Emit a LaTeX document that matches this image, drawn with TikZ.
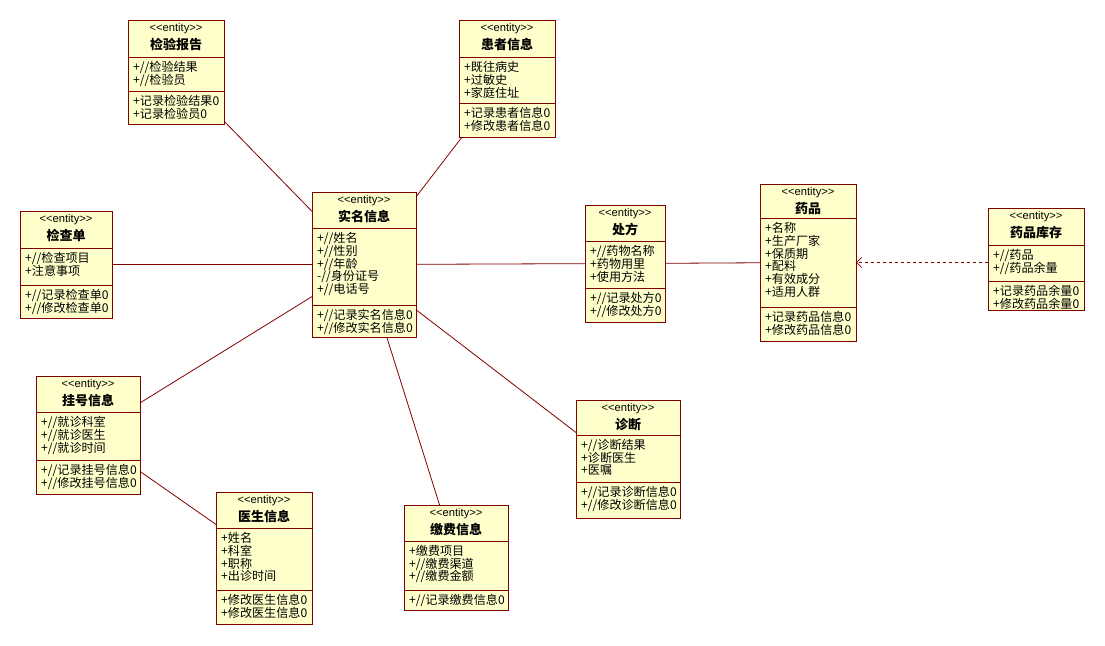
\documentclass[tikz,border=0pt]{standalone}
\usepackage{fontspec}
\setmainfont{Noto Sans CJK SC}
\newfontfamily\stereofont{Liberation Sans}
\usetikzlibrary{calc,arrows.meta}

\definecolor{umlline}{RGB}{128,0,0}
\definecolor{umlfill}{RGB}{255,255,204}

\tikzset{
  ebox/.style={draw=umlline, fill=umlfill, line width=1pt, inner sep=0pt, outer sep=0pt},
  eline/.style={draw=umlline, line width=1pt},
  stereo/.style={font=\stereofont\fontsize{11.2}{12}\selectfont, inner sep=0pt},
  etitle/.style={font=\fontsize{13}{14}\selectfont\bfseries, inner sep=0pt},
  members/.style={anchor=north west, align=left, inner sep=0pt, font=\fontsize{12.1}{12.8}\selectfont},
  assoc/.style={draw=umlline, line width=0.8pt},
  dep/.style={draw=umlline, line width=0.8pt, dash pattern=on 3pt off 3pt,
              -{Straight Barb[length=5pt,width=10pt]}},
}

% entity box: name, left, top, width, height, first separator, second separator, title
\newcommand\entitybox[8]{%
  \node[ebox, minimum width=#4pt, minimum height=#5pt, anchor=north west] (#1) at (#2,#3) {};
  \draw[eline] ($(#1.north west)+(0,#6)$) -- ($(#1.north east)+(0,#6)$);
  \draw[eline] ($(#1.north west)+(0,#7)$) -- ($(#1.north east)+(0,#7)$);
  \node[stereo] (#1-st) at ($(#1.north)+(0,8.5)$) {<\kern0pt<entity>\kern0pt>};
  \node[etitle] (#1-ti) at ($(#1.north)+(0,24.5)$) {#8};
  \coordinate (#1-a) at ($(#1.north west)+(5,#6+4)$);
  \coordinate (#1-m) at ($(#1.north west)+(5,#7+4)$);
}

\begin{document}
\begin{tikzpicture}[x=1pt,y=-1pt]
\path[fill=white, use as bounding box] (0,0) rectangle (1105,645);

\entitybox{jybg}{128}{20}{96}{104}{37}{71}{检验报告}
\node[members] (jybg-at) at (jybg-a) {+//检验结果\\+//检验员};
\node[members] (jybg-mt) at (jybg-m) {+记录检验结果0\\+记录检验员0};

\entitybox{hzxx}{459}{20}{96}{117}{37}{83}{患者信息}
\node[members] (hzxx-at) at (hzxx-a) {+既往病史\\+过敏史\\+家庭住址};
\node[members] (hzxx-mt) at (hzxx-m) {+记录患者信息0\\+修改患者信息0};

\entitybox{smxx}{312}{192}{104}{145}{36}{113}{实名信息}
\node[members] (smxx-at) at (smxx-a) {+//姓名\\+//性别\\+//年龄\\-//身份证号\\+//电话号};
\node[members] (smxx-mt) at (smxx-m) {+//记录实名信息0\\+//修改实名信息0};

\entitybox{jcd}{20}{211}{92}{107}{37}{74}{检查单}
\node[members] (jcd-at) at (jcd-a) {+//检查项目\\+注意事项};
\node[members] (jcd-mt) at (jcd-m) {+//记录检查单0\\+//修改检查单0};

\entitybox{cf}{585}{205}{80}{117}{36}{83}{处方}
\node[members] (cf-at) at (cf-a) {+//药物名称\\+药物用里\\+使用方法};
\node[members] (cf-mt) at (cf-m) {+//记录处方0\\+//修改处方0};

\entitybox{yp}{760}{184}{96}{157}{34}{123}{药品}
\node[members] (yp-at) at (yp-a) {+名称\\+生产厂家\\+保质期\\+配料\\+有效成分\\+适用人群};
\node[members] (yp-mt) at (yp-m) {+记录药品信息0\\+修改药品信息0};

\entitybox{ypkc}{988}{208}{96}{102}{37}{73}{药品库存}
\node[members] (ypkc-at) at (ypkc-a) {+//药品\\+//药品余量};
\node[members] (ypkc-mt) at (ypkc-m) {+记录药品余量0\\+修改药品余量0};

\entitybox{ghxx}{36}{376}{104}{118}{36}{84}{挂号信息}
\node[members] (ghxx-at) at (ghxx-a) {+//就诊科室\\+//就诊医生\\+//就诊时间};
\node[members] (ghxx-mt) at (ghxx-m) {+//记录挂号信息0\\+//修改挂号信息0};

\entitybox{ysxx}{216}{492}{96}{132}{36}{98}{医生信息}
\node[members] (ysxx-at) at (ysxx-a) {+姓名\\+科室\\+职称\\+出诊时间};
\node[members] (ysxx-mt) at (ysxx-m) {+修改医生信息0\\+修改医生信息0};

\entitybox{jfxx}{404}{505}{104}{105}{36}{85}{缴费信息}
\node[members] (jfxx-at) at (jfxx-a) {+缴费项目\\+//缴费渠道\\+//缴费金额};
\node[members] (jfxx-mt) at (jfxx-m) {+//记录缴费信息0};

\entitybox{zd}{576}{400}{104}{118}{35}{82}{诊断}
\node[members] (zd-at) at (zd-a) {+//诊断结果\\+诊断医生\\+医嘱};
\node[members] (zd-mt) at (zd-m) {+//记录诊断信息0\\+//修改诊断信息0};

% associations
\draw[assoc] (jybg) -- (smxx);
\draw[assoc] (hzxx) -- (smxx);
\draw[assoc] (jcd) -- (smxx);
\draw[assoc] (smxx) -- (cf);
\draw[assoc] (cf) -- (yp);
\draw[assoc] (ghxx) -- (smxx);
\draw[assoc] (ghxx) -- (ysxx);
\draw[assoc] (smxx) -- (jfxx);
\draw[assoc] (smxx.-41) -- (zd.153);
% dependency
\draw[dep] (ypkc.west |- yp.east) -- (yp.east);
\end{tikzpicture}
\end{document}
